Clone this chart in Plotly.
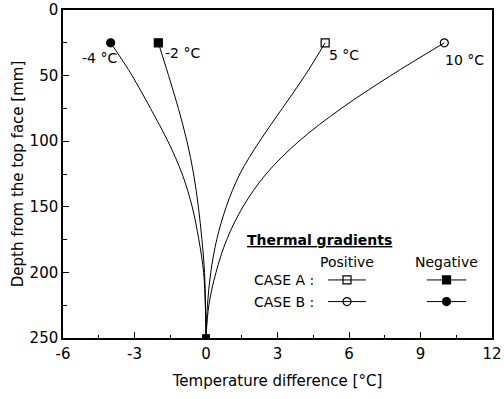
import plotly.graph_objects as go

# ---- data ----
depth = [25, 50, 75, 100, 125, 150, 175, 200, 225, 250]
t_pos_10 = [10, 7.75, 5.68, 3.9, 2.52, 1.55, 0.87, 0.42, 0.12, 0]
t_pos_5 = [5, 4.15, 3.2, 2.25, 1.42, 0.85, 0.45, 0.2, 0.06, 0]
t_neg_2 = [-2, -1.57, -1.16, -0.8, -0.52, -0.32, -0.17, -0.06, -0.02, 0]
t_neg_4 = [-4, -3.1, -2.33, -1.6, -1.0, -0.58, -0.3, -0.1, -0.03, 0]

series = [
    (t_neg_4, "circle", "-4 °C"),
    (t_neg_2, "square", "-2 °C"),
    (t_pos_5, "square-open", "5 °C"),
    (t_pos_10, "circle-open", "10 °C"),
]
label_pos = {"-4 °C": (-4.45, 36.5), "-2 °C": (-1.0, 33), "5 °C": (5.8, 34), "10 °C": (10.85, 38)}

x_ticks = [-6, -3, 0, 3, 6, 9, 12]
x_ticktext = ["-6", "-3", "0", "3", "6", "9", "12"]
y_ticks = [0, 50, 100, 150, 200, 250]

FONT = "DejaVu Sans"

fig = go.Figure()
for vals, sym, lab in series:
    fig.add_trace(go.Scatter(
        x=vals, y=depth, mode="lines", line=dict(color="black", width=1, shape="spline", smoothing=1.0),
        showlegend=False, hoverinfo="skip"))
    fig.add_trace(go.Scatter(
        x=[vals[0]], y=[depth[0]], mode="markers",
        marker=dict(symbol=sym, size=8, color="black", line=dict(color="black", width=1.2)),
        showlegend=False))
    fig.add_trace(go.Scatter(
        x=[vals[-1]], y=[depth[-1]], mode="markers", cliponaxis=True,
        marker=dict(symbol="square", size=7, color="black"),
        showlegend=False, hoverinfo="skip"))
    lx, ly = label_pos[lab]
    fig.add_annotation(x=lx, y=ly, text=lab, showarrow=False,
                       font=dict(family=FONT, size=14, color="black"))

# ---- custom legend on an overlay axis (0..1 over the plot area) ----
leg_rows = [("CASE A :", 0.177, "square-open", "square"),
            ("CASE B :", 0.111, "circle-open", "circle")]
pos_x = [0.618, 0.706]
neg_x = [0.848, 0.940]
for name, yy, sp, sn in leg_rows:
    for xs, sym in ((pos_x, sp), (neg_x, sn)):
        fig.add_trace(go.Scatter(
            x=xs, y=[yy, yy], mode="lines", line=dict(color="black", width=1),
            xaxis="x2", yaxis="y2", showlegend=False, hoverinfo="skip"))
        fig.add_trace(go.Scatter(
            x=[(xs[0] + xs[1]) / 2], y=[yy], mode="markers",
            marker=dict(symbol=sym, size=8, color="black", line=dict(color="black", width=1.2)),
            xaxis="x2", yaxis="y2", showlegend=False, hoverinfo="skip"))
    fig.add_annotation(x=0.44, y=yy, xref="x2", yref="y2", text=name, showarrow=False,
                       xanchor="left", font=dict(family=FONT, size=14, color="black"))

fig.add_annotation(x=0.424, y=0.298, xref="x2", yref="y2", text="<b><u>Thermal gradients</u></b>",
                   showarrow=False, xanchor="left", font=dict(family=FONT, size=14, color="black"))
fig.add_annotation(x=0.662, y=0.232, xref="x2", yref="y2", text="Positive", showarrow=False,
                   font=dict(family=FONT, size=14, color="black"))
fig.add_annotation(x=0.894, y=0.232, xref="x2", yref="y2", text="Negative", showarrow=False,
                   font=dict(family=FONT, size=14, color="black"))

axis_common = dict(showgrid=False, zeroline=False, showline=True, linecolor="black", linewidth=1.5,
                   mirror=True, ticks="inside", tickcolor="black", ticklen=6, tickwidth=1,
                   automargin=False,
                   tickfont=dict(family=FONT, size=15, color="black"))

fig.update_layout(
    width=504, height=399,
    margin=dict(l=63, r=12, t=10, b=61),
    paper_bgcolor="white", plot_bgcolor="white",
    xaxis=dict(range=[-6, 12], tickvals=x_ticks, ticktext=x_ticktext, ticklabelstandoff=1,
               minor=dict(ticks="inside", ticklen=3, tickcolor="black", dtick=1.5, tick0=-6),
               title=dict(text="Temperature difference [°C]", font=dict(family=FONT, size=15, color="black"), standoff=14),
               **axis_common),
    yaxis=dict(range=[250, 0], tickvals=y_ticks,
               minor=dict(ticks="inside", ticklen=4, tickcolor="black", dtick=25, tick0=0),
               title=dict(text="Depth from the top face [mm]", font=dict(family=FONT, size=15, color="black"), standoff=2),
               **axis_common),
    xaxis2=dict(range=[0, 1], overlaying="x", visible=False),
    yaxis2=dict(range=[0, 1], overlaying="y", visible=False),
)

fig.write_html("out.html")
